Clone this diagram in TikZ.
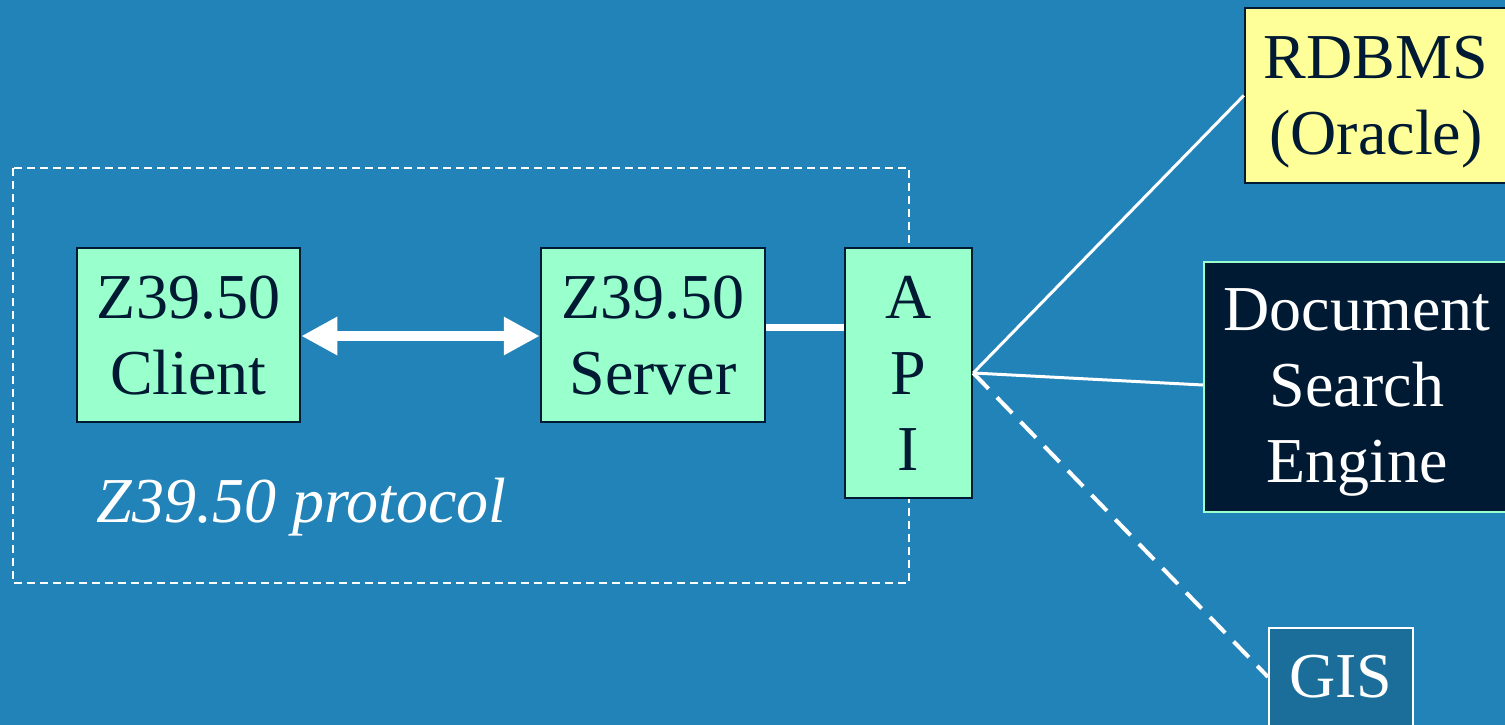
\documentclass[tikz,border=0pt]{standalone}
\usepackage{fontspec}
\setmainfont{Liberation Serif}
\usetikzlibrary{arrows.meta}
\definecolor{bg}{RGB}{34,131,184}
\definecolor{gisfill}{RGB}{28,110,154}
\definecolor{navy}{RGB}{0,26,51}
\definecolor{mint}{RGB}{153,255,204}
\definecolor{lightyellow}{RGB}{255,255,153}
\tikzset{
  big/.style={font=\fontsize{64}{76}\selectfont},
  mintbox/.style={big, draw=navy, line width=2.5pt, fill=mint, text=navy, align=center, inner sep=0pt},
  conn/.style={white, line width=3pt},
}
\begin{document}
\begin{tikzpicture}[x=1pt,y=-1pt]
\useasboundingbox (0,0) rectangle (1505,725);
\fill[bg] (0,0) rectangle (1505,725);
% dashed protocol frame
\draw[white, line width=2pt, dash pattern=on 8pt off 5pt] (13,168) rectangle (909,583);
\node[big, text=white, font=\fontsize{64}{76}\selectfont\itshape, anchor=base west] (proto) at (93,522) {Z39.50 protocol};
% boxes
\node[mintbox, text depth=-7pt, minimum width=223pt, minimum height=174pt] (client) at (188.5,335) {Z39.50\\Client};
\node[mintbox, text depth=-7pt, minimum width=224pt, minimum height=174pt] (server) at (653,335) {Z39.50\\Server};
\node[mintbox, text depth=-7pt, minimum width=127pt, minimum height=250pt] (api) at (908.5,373) {A\\P\\I};
\node[big, draw=navy, line width=2.5pt, fill=lightyellow, text=navy, align=center, inner sep=0pt,
      text depth=0pt, minimum width=262pt, minimum height=175pt] (rdbms) at (1376,95.5) {RDBMS\\(Oracle)};
\node[big, draw=mint, line width=2pt, fill=navy, text=white, align=center, inner sep=0pt,
      text depth=2pt, minimum width=306pt, minimum height=250pt] (doc) at (1357,387) {Document\\Search\\Engine};
\node[big, draw=white, line width=2pt, fill=gisfill, text=white, inner sep=0pt,
      minimum width=144pt, minimum height=98pt] (gis) at (1341,677) {GIS};
% connectors
\draw[white, line width=10pt, {Triangle[length=36pt,width=36pt]}-{Triangle[length=36pt,width=36pt]}]
  ([yshift=-1pt]client.east) -- ([yshift=-1pt]server.west);
\draw[white, line width=7pt] ([yshift=8pt]server.east) -- ([yshift=8pt]server.east -| api.west);
\draw[conn] (api.east) -- (rdbms.west);
\draw[conn] (api.east) -- ([yshift=2pt]doc.west);
\draw[white, line width=4pt, dash pattern=on 22pt off 12pt] (api.east) -- (gis.west);
\end{tikzpicture}
\end{document}
